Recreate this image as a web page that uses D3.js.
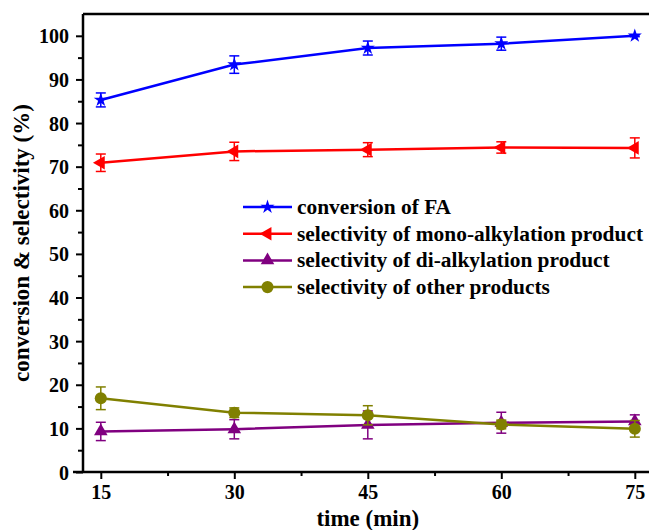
<!DOCTYPE html>
<html>
<head>
<meta charset="utf-8">
<script src="https://cdnjs.cloudflare.com/ajax/libs/d3/7.8.5/d3.min.js"></script>
<style>
  body { margin: 0; background: #fff; }
</style>
</head>
<body>
<script>
// time points (min)
var times = [15, 30, 45, 60, 75];
var xTickValues = [15, 30, 45, 60, 75];
var yTickValues = [0, 10, 20, 30, 40, 50, 60, 70, 80, 90, 100];

// series values and error bars
var conversionFA = [85.3, 93.4, 97.2, 98.2, 100.0];
var conversionFAErr = [1.6, 2.0, 1.6, 1.5, 0.2];
var monoSel = [70.9, 73.5, 73.9, 74.4, 74.3];
var monoSelErr = [2.0, 2.1, 1.6, 1.3, 2.3];
var diSel = [9.3, 9.8, 10.8, 11.3, 11.6];
var diSelErr = [2.1, 2.2, 3.2, 2.4, 1.5];
var otherSel = [16.9, 13.6, 13.0, 10.9, 9.9];
var otherSelErr = [2.6, 1.1, 2.2, 1.0, 1.9];

var seriesNames = [
  "conversion of FA",
  "selectivity of mono-alkylation product",
  "selectivity of di-alkylation product",
  "selectivity of other products"
];

var series = [
  {name: seriesNames[0], values: conversionFA, err: conversionFAErr, color: "#0000ff", symbol: "star"},
  {name: seriesNames[1], values: monoSel, err: monoSelErr, color: "#ff0000", symbol: "triLeft"},
  {name: seriesNames[2], values: diSel, err: diSelErr, color: "#800080", symbol: "triUp"},
  {name: seriesNames[3], values: otherSel, err: otherSelErr, color: "#808000", symbol: "circle"}
];

var FONT = "'Liberation Serif', 'Times New Roman', 'DejaVu Serif', serif";
var width = 649, height = 530;
var svg = d3.select("body").append("svg")
  .attr("width", width)
  .attr("height", height)
  .attr("font-family", FONT)
  .attr("font-weight", "bold");

var xScale = d3.scaleLinear().domain([13, 77]).range([83, 652.6]);
var yScale = d3.scaleLinear().domain([0, 105]).range([472, 14]);

function symbolPath(kind) {
  if (kind === "star") return d3.symbol().type(d3.symbolStar).size(62)();
  if (kind === "circle") return d3.symbol().type(d3.symbolCircle).size(115)();
  return d3.symbol().type(d3.symbolTriangle).size(80)();
}
function symbolRotate(kind) {
  return kind === "triLeft" ? " rotate(-90)" : "";
}

// frame (top border; right side is cut off by the picture)
svg.append("line")
  .attr("x1", xScale.range()[0]).attr("x2", width)
  .attr("y1", yScale(105)).attr("y2", yScale(105))
  .attr("stroke", "#000").attr("stroke-width", 2.5);

// x axis
var xAxis = d3.axisBottom(xScale).tickValues(xTickValues).tickSize(7).tickPadding(6);
var xGroup = svg.append("g")
  .attr("transform", "translate(0," + yScale(0) + ")")
  .call(xAxis)
  .attr("font-family", FONT);
xGroup.selectAll(".tick line").attr("stroke-width", 2);
xGroup.select(".domain").attr("d", "M" + (xScale.range()[0] - 10) + ",0H" + width).attr("stroke-width", 2.5);
xGroup.selectAll("text").attr("font-size", 20).attr("fill", "#000");
var xMinor = d3.axisBottom(xScale).tickValues([22.5, 37.5, 52.5, 67.5]).tickSize(4).tickFormat("");
svg.append("g")
  .attr("transform", "translate(0," + yScale(0) + ")")
  .call(xMinor)
  .call(function(g) { g.select(".domain").remove(); g.selectAll("line").attr("stroke-width", 2); });

// y axis
var yAxis = d3.axisLeft(yScale).tickValues(yTickValues).tickSize(7).tickPadding(7);
var yGroup = svg.append("g")
  .attr("transform", "translate(" + xScale.range()[0] + ",0)")
  .call(yAxis)
  .attr("font-family", FONT);
yGroup.selectAll(".tick line").attr("stroke-width", 2);
yGroup.select(".domain").attr("d", "M0," + yScale(0) + "V" + yScale(105)).attr("stroke-width", 2.5);
yGroup.selectAll("text").attr("font-size", 20).attr("fill", "#000").attr("dy", "0.35em");
var yMinor = d3.axisLeft(yScale).tickValues(d3.range(5, 105, 10)).tickSize(5).tickFormat("");
svg.append("g")
  .attr("transform", "translate(" + xScale.range()[0] + ",0)")
  .call(yMinor)
  .call(function(g) { g.select(".domain").remove(); g.selectAll("line").attr("stroke-width", 2); });

// axis titles
svg.append("text")
  .attr("x", (xScale(45)))
  .attr("y", 526)
  .attr("text-anchor", "middle")
  .attr("font-size", 23)
  .text("time (min)");

svg.append("text")
  .attr("transform", "translate(29," + 243 + ") rotate(-90)")
  .attr("text-anchor", "middle")
  .attr("font-size", 23)
  .text("conversion & selectivity (%)");

// series
var line = d3.line()
  .x(function(d) { return xScale(d.t); })
  .y(function(d) { return yScale(d.v); });

series.forEach(function(s) {
  var pts = times.map(function(t, i) { return {t: t, v: s.values[i], e: s.err[i]}; });
  var g = svg.append("g");

  g.append("path")
    .datum(pts)
    .attr("d", line)
    .attr("fill", "none")
    .attr("stroke", s.color)
    .attr("stroke-width", 2.5);

  var eb = g.selectAll("g.err").data(pts).enter().append("g").attr("class", "err")
    .attr("stroke", s.color).attr("stroke-width", 1.5);
  eb.append("line")
    .attr("x1", function(d) { return xScale(d.t); })
    .attr("x2", function(d) { return xScale(d.t); })
    .attr("y1", function(d) { return yScale(d.v + d.e); })
    .attr("y2", function(d) { return yScale(d.v - d.e); });
  eb.append("line")
    .attr("x1", function(d) { return xScale(d.t) - 5; })
    .attr("x2", function(d) { return xScale(d.t) + 5; })
    .attr("y1", function(d) { return yScale(d.v + d.e); })
    .attr("y2", function(d) { return yScale(d.v + d.e); });
  eb.append("line")
    .attr("x1", function(d) { return xScale(d.t) - 5; })
    .attr("x2", function(d) { return xScale(d.t) + 5; })
    .attr("y1", function(d) { return yScale(d.v - d.e); })
    .attr("y2", function(d) { return yScale(d.v - d.e); });

  g.selectAll("path.mark").data(pts).enter().append("path")
    .attr("class", "mark")
    .attr("d", symbolPath(s.symbol))
    .attr("transform", function(d) {
      return "translate(" + xScale(d.t) + "," + yScale(d.v) + ")" + symbolRotate(s.symbol);
    })
    .attr("fill", s.color);
});

// legend
var legend = svg.append("g").attr("transform", "translate(243,207)");
var rows = legend.selectAll("g").data(series).enter().append("g")
  .attr("transform", function(d, i) { return "translate(0," + (i * 26.7) + ")"; });
rows.append("line")
  .attr("x1", 0).attr("x2", 49)
  .attr("stroke", function(d) { return d.color; })
  .attr("stroke-width", 2.5);
rows.append("path")
  .attr("d", function(d) { return symbolPath(d.symbol); })
  .attr("transform", function(d) { return "translate(24.5,0)" + symbolRotate(d.symbol); })
  .attr("fill", function(d) { return d.color; });
rows.append("text")
  .attr("x", 54)
  .attr("y", 0)
  .attr("dy", "0.33em")
  .attr("font-size", 21.4)
  .text(function(d) { return d.name; });
</script>
</body>
</html>
